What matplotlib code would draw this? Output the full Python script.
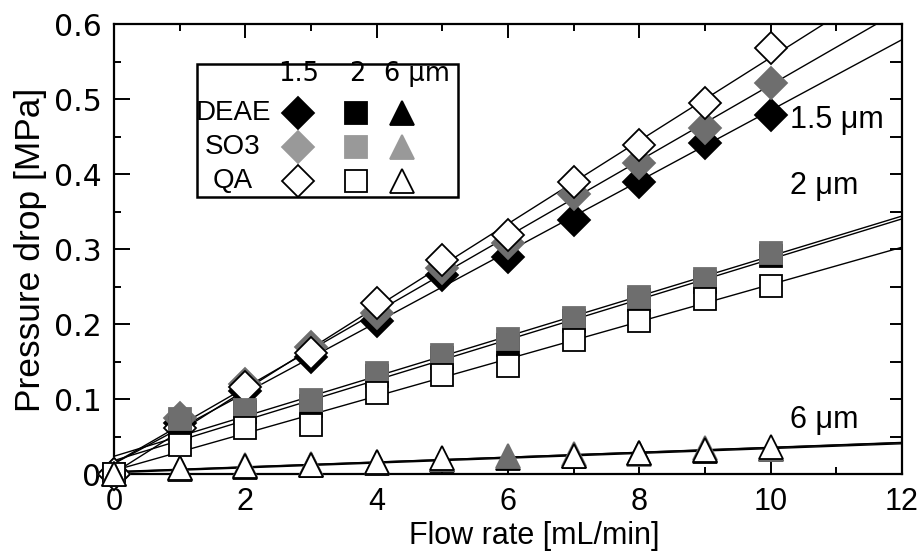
import numpy as np
import matplotlib
matplotlib.use("Agg")
import matplotlib.pyplot as plt
from matplotlib.patches import Rectangle
from matplotlib.ticker import MultipleLocator

# Flow rate [mL/min]
flow = [0, 1, 2, 3, 4, 5, 6, 7, 8, 9, 10]

# Pressure drop [MPa], 1.5 um particles
deae_15 = [0, 0.068, 0.111, 0.157, 0.205, 0.266, 0.290, 0.339, 0.390, 0.442, 0.479]
so3_15 = [0, 0.075, 0.120, 0.170, 0.215, 0.275, 0.308, 0.373, 0.415, 0.462, 0.522]
qa_15 = [0, 0.062, 0.116, 0.162, 0.228, 0.286, 0.319, 0.389, 0.439, 0.495, 0.568]

# 2 um particles
deae_2 = [0, 0.062, 0.083, 0.091, 0.131, 0.155, 0.172, 0.205, 0.232, 0.257, 0.291]
so3_2 = [0, 0.074, 0.086, 0.099, 0.135, 0.159, 0.181, 0.208, 0.236, 0.260, 0.295]
qa_2 = [0, 0.039, 0.062, 0.066, 0.108, 0.133, 0.144, 0.179, 0.205, 0.234, 0.251]

# 6 um particles
deae_6 = [0, 0.007, 0.010, 0.012, 0.015, 0.019, 0.022, 0.025, 0.028, 0.031, 0.034]
so3_6 = [0, 0.008, 0.013, 0.014, 0.016, 0.020, 0.024, 0.027, 0.027, 0.035, 0.034]
qa_6 = [0, 0.009, 0.011, 0.0127, 0.017, 0.0216, np.nan, 0.025, 0.029, 0.033, 0.036]

sizes = ["1.5", "2", "6 μm"]
resins = ["DEAE", "SO3", "QA"]
size_labels = ["1.5 μm", "2 μm", "6 μm"]

BLACK = "#000000"
DARK_GRAY = "#6e6e6e"
LIGHT_GRAY = "#999999"

fig = plt.figure(figsize=(9.22, 5.53), dpi=100)
ax = fig.add_axes([0.1236, 0.142, 0.8547, 0.8146])

x = np.asarray(flow, dtype=float)
x_fit = np.linspace(0, 12, 50)

groups = [
    ("D", 16.0, [deae_15, so3_15, qa_15]),
    ("s", 15.5, [deae_2, so3_2, qa_2]),
    ("^", 17.0, [deae_6, so3_6, qa_6]),
]
face = [BLACK, DARK_GRAY, "white"]
edge = [BLACK, DARK_GRAY, BLACK]

# linear trend lines
for marker, ms, series in groups:
    for ys in series:
        y = np.asarray(ys, dtype=float)
        ok = np.isfinite(y)
        k, b = np.polyfit(x[ok], y[ok], 1)
        ax.plot(x_fit, k * x_fit + b, color="black", lw=1.0, zorder=2)

# measured points
z = 3
for marker, ms, series in groups:
    for i, ys in enumerate(series):
        ax.plot(x, ys, linestyle="none", marker=marker, ms=ms,
                mfc=face[i], mec=edge[i], mew=1.3, zorder=z, clip_on=False)
        z += 1

ax.set_xlim(0, 12)
ax.set_ylim(0, 0.6)
ax.xaxis.set_major_locator(MultipleLocator(2))
ax.xaxis.set_minor_locator(MultipleLocator(1))
ax.yaxis.set_major_locator(MultipleLocator(0.1))
ax.yaxis.set_minor_locator(MultipleLocator(0.05))
ax.set_yticks([0, 0.1, 0.2, 0.3, 0.4, 0.5, 0.6])
ax.set_yticklabels(["0", "0.1", "0.2", "0.3", "0.4", "0.5", "0.6"])
ax.tick_params(which="both", direction="in", top=True, right=False, width=1.4)
ax.tick_params(which="major", length=10)
ax.tick_params(which="minor", length=5)
ax.tick_params(axis="y", which="major", length=11.5, pad=9)
ax.tick_params(axis="x", which="major", pad=9)
for lab in ax.get_xticklabels():
    lab.set_family("Liberation Sans")
    lab.set_fontsize(22)
for lab in ax.get_yticklabels():
    lab.set_family("DejaVu Sans")
    lab.set_fontsize(21.5)
for sp in ax.spines.values():
    sp.set_linewidth(1.6)

# right-hand axis: uniform ticks every 0.05
ax_r = ax.twinx()
ax_r.set_ylim(0, 0.6)
ax_r.yaxis.set_major_locator(MultipleLocator(0.05))
ax_r.tick_params(axis="y", direction="in", length=9, width=1.4, labelright=False)
for sp in ax_r.spines.values():
    sp.set_visible(False)

fig.text(0.5792, 0.003, "Flow rate [mL/min]", ha="center", va="bottom",
         fontsize=22, family="Liberation Sans")
fig.text(0.033, 0.548, "Pressure drop [MPa]", ha="center", va="center",
         rotation=90, fontsize=25.5, family="Liberation Sans")

# series labels at the right
for txt, yy in zip(size_labels, [120, 186, 420]):
    fig.text(790 / 922, 1 - yy / 553, txt, ha="left", va="center",
             fontsize=22, family="Liberation Sans")

# legend block
box = Rectangle((197 / 922, 1 - 197 / 553), 261 / 922, 133 / 553,
                transform=fig.transFigure, fill=False, lw=1.8,
                edgecolor="black", zorder=20)
fig.add_artist(box)

col_x = [298, 356, 402]
head_x = [299, 357, 417]
row_y = [113, 147, 181]
for hx, txt in zip(head_x, sizes):
    fig.text(hx / 922, 1 - 74 / 553, txt, ha="center", va="center",
             fontsize=18.5, family="DejaVu Sans", zorder=21)
leg_face = [BLACK, LIGHT_GRAY, "white"]
leg_edge = [BLACK, LIGHT_GRAY, BLACK]
for r, (name, ry) in enumerate(zip(resins, row_y)):
    fig.text(233 / 922, 1 - ry / 553, name, ha="center", va="center",
             fontsize=20, family="Liberation Sans", zorder=21)
    for c, (marker, ms, _) in enumerate(groups):
        fig.add_artist(plt.Line2D([col_x[c] / 922], [1 - ry / 553],
                                  transform=fig.transFigure, marker=marker,
                                  ms=ms, mfc=leg_face[r], mec=leg_edge[r],
                                  mew=1.3, linestyle="none", zorder=21))

fig.savefig("out.png", dpi=100)
